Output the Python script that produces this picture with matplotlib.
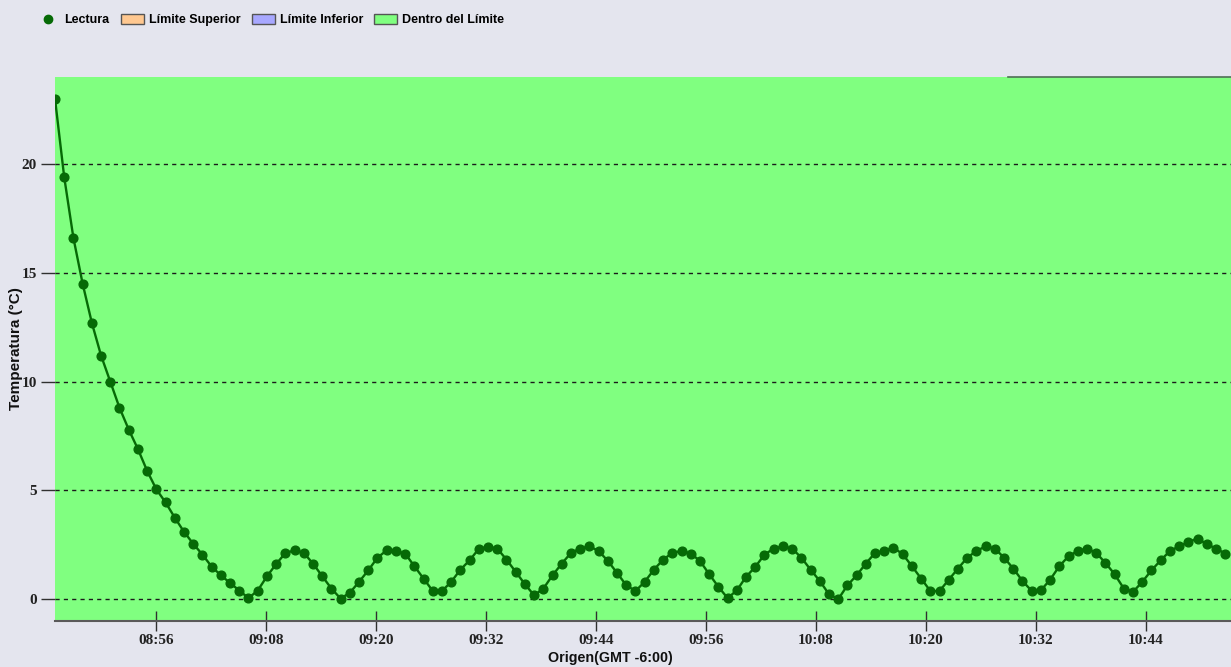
import matplotlib
matplotlib.use("Agg")
import matplotlib.pyplot as plt
import matplotlib.dates as mdates
from matplotlib.lines import Line2D
from matplotlib.patches import Patch
import pandas as pd

# Temperature readings, one per sampling interval
temperatura = [
    23.0, 19.4, 16.6, 14.5, 12.7, 11.2, 10.0, 8.8, 7.8, 6.9,
    5.9, 5.05, 4.45, 3.75, 3.1, 2.55, 2.05, 1.5, 1.1, 0.75,
    0.4, 0.05, 0.4, 1.05, 1.62, 2.12, 2.25, 2.13, 1.64, 1.06,
    0.49, 0.03, 0.3, 0.80, 1.33, 1.91, 2.25, 2.22, 2.10, 1.52,
    0.95, 0.38, 0.38, 0.80, 1.36, 1.79, 2.32, 2.40, 2.33, 1.82,
    1.26, 0.69, 0.18, 0.49, 1.10, 1.64, 2.13, 2.33, 2.43, 2.22,
    1.76, 1.21, 0.64, 0.38, 0.80, 1.36, 1.82, 2.13, 2.22, 2.10,
    1.76, 1.15, 0.57, 0.05, 0.41, 1.03, 1.49, 2.05, 2.33, 2.43,
    2.33, 1.91, 1.36, 0.84, 0.23, 0.0, 0.64, 1.10, 1.64, 2.13,
    2.22, 2.37, 2.07, 1.52, 0.95, 0.38, 0.38, 0.90, 1.41, 1.91,
    2.22, 2.43, 2.33, 1.91, 1.41, 0.84, 0.38, 0.41, 0.90, 1.52,
    1.98, 2.22, 2.33, 2.13, 1.67, 1.15, 0.49, 0.34, 0.80, 1.33,
    1.79, 2.22, 2.43, 2.63, 2.79, 2.53, 2.33, 2.10,
]
inicio = "2024-01-01 08:45:00"
intervalo = "60300ms"
fin_eje = "2024-01-01 10:53:16"
y_ticks = [0, 5, 10, 15, 20]
leyenda = ["Lectura", "Límite Superior", "Límite Inferior", "Dentro del Límite"]

tiempos = pd.date_range(inicio, periods=len(temperatura), freq=intervalo)

plt.rcParams["font.family"] = ["Liberation Sans", "DejaVu Sans"]
plt.rcParams["font.weight"] = "bold"

W, H = 1231, 667
fig = plt.figure(figsize=(W / 100, H / 100), dpi=100, facecolor="#e4e5ee")
ax = fig.add_axes([55 / W, 46 / H, 1176 / W, 544 / H])
ax.set_facecolor("#80ff80")

verde = "#066a06"
ax.plot(tiempos, temperatura, color=verde, lw=1.7, marker="o", ms=6.3,
        mfc=verde, mec=verde, zorder=3)

ax.set_xlim(pd.Timestamp(inicio), pd.Timestamp(fin_eje))
ax.set_ylim(-1, 24)
ax.set_yticks(y_ticks)
ax.xaxis.set_major_locator(mdates.MinuteLocator(byminute=[8, 20, 32, 44, 56]))
ax.xaxis.set_major_formatter(mdates.DateFormatter("%H:%M"))

ax.set_axisbelow(True)
ax.yaxis.grid(True, linestyle=(0, (3, 3)), color="#1a1a1a", lw=1)

for s in ("left", "top", "right"):
    ax.spines[s].set_visible(False)
ax.spines["bottom"].set_color("#5a5a5a")
ax.spines["bottom"].set_linewidth(1.5)

ax.tick_params(axis="y", direction="out", length=10, width=1, color="#303030",
               pad=3, labelsize=11, labelcolor="#222222",
               labelfontfamily="Liberation Serif")
ax.tick_params(axis="x", direction="inout", length=15, width=1, color="#303030",
               pad=2, labelsize=11, labelcolor="#222222",
               labelfontfamily="Liberation Serif")

# thin border segment along the top right of the plot
ax.plot([0.81, 1.0], [1.0, 1.0], transform=ax.transAxes, color="#4f6f55",
        lw=1.2, clip_on=False)

ax.set_ylabel("Temperatura (°C)", fontsize=11, fontweight="bold", color="#111111")
ax.yaxis.set_label_coords(-0.027, 0.5)
ax.set_xlabel("Origen(GMT -6:00)", fontsize=10.3, fontweight="bold", color="#111111")
ax.xaxis.set_label_coords(0.472, -0.055)

handles = [
    Line2D([], [], ls="none", marker="o", ms=6, mfc=verde, mec=verde),
    Patch(facecolor="#ffc890", edgecolor="#555555", lw=1),
    Patch(facecolor="#a8a8ff", edgecolor="#555555", lw=1),
    Patch(facecolor="#80ff80", edgecolor="#555555", lw=1),
]
fig.legend(handles, leyenda, loc="center left", bbox_to_anchor=(36 / W, 1 - 20 / H),
           ncol=4, frameon=False, fontsize=9, handlelength=1.85,
           handleheight=0.8, handletextpad=0.4, columnspacing=0.9, borderpad=0,
           borderaxespad=0)

fig.savefig("out.png", dpi=100, facecolor=fig.get_facecolor())
